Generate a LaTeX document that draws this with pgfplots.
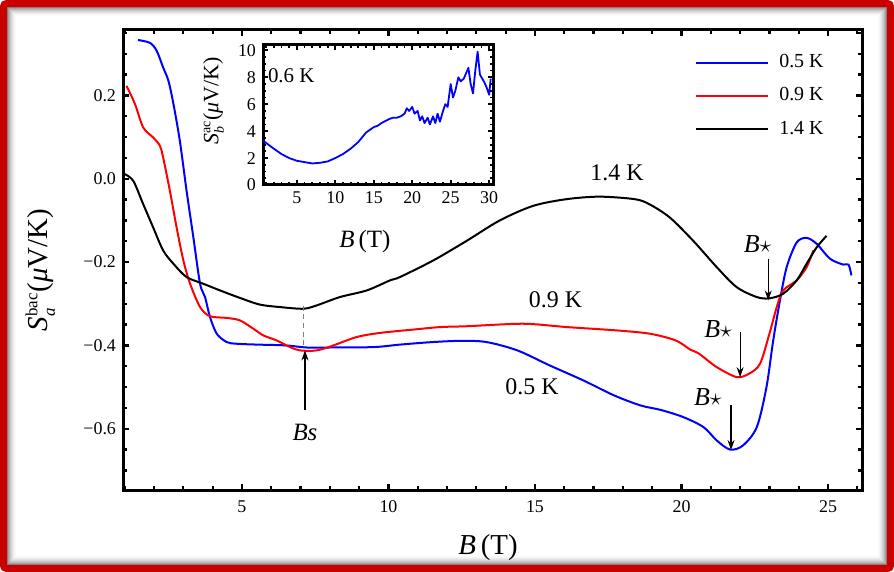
\documentclass[border=0pt]{standalone}
\usepackage{fontspec}
\setmainfont{Liberation Serif}
\usepackage{pgfplots}
\pgfplotsset{compat=1.18}
\usetikzlibrary{arrows.meta}
\definecolor{frred}{RGB}{200,0,0}
\newcommand{\tf}{\fontsize{9}{10}\selectfont}
\begin{document}
\begin{tikzpicture}
\pgfplotsset{
  myframe/.style={
    scale only axis,
    axis line style={line width=1.5bp},
    tick align=inside,
    xtick pos=both, ytick pos=both,
    major tick length=3bp, minor tick length=1.8bp,
    every tick/.style={black, line width=1.1bp},
    tick label style={font=\tf},
    /pgf/number format/assume math mode=true,
  }
}
% bounding box & frame
\path[use as bounding box] (-61.5bp,-41bp) rectangle (385.5bp,245bp);
\foreach \i in {0,...,9}{
  \pgfmathsetmacro{\op}{0.45*(1-\i/10)^2}
  \draw[black, opacity=\op, line width=0.55bp]
    ({-61.5bp+3.8bp+0.5bp*\i},{-41bp+3.8bp+0.5bp*\i}) rectangle ({385.5bp-3.8bp-0.5bp*\i},{245bp-3.8bp-0.5bp*\i});
}
\draw[frred, line width=3.6bp, rounded corners=1.5bp] (-59.7bp,-39.2bp) rectangle (383.7bp,243.2bp);

\begin{axis}[myframe, at={(0,0)}, anchor=south west, width=369.5bp, height=230bp,
  xmin=0.94, xmax=26.16, ymin=-0.747, ymax=0.357,
  xtick={5,10,15,20,25}, minor xtick={1,2,...,26},
  ytick={-0.6,-0.4,-0.2,0,0.2}, yticklabels={−0.6,−0.4,−0.2,0.0,0.2},
  minor ytick={-0.7,-0.65,-0.55,-0.5,-0.45,-0.35,-0.3,-0.25,-0.15,-0.1,-0.05,0.05,0.1,0.15,0.25,0.3,0.35},
  xticklabel style={yshift=-2bp},
  xlabel={\textit{B}\,(T)},
  xlabel style={font=\fontsize{14.5}{16}\selectfont, at={(axis description cs:0.494,-0.126)}, anchor=center},
  ylabel={\textit{S}$^{\mbox{\fontsize{8.5}{9}\selectfont bac}}_{\mbox{\fontsize{8.5}{9}\selectfont\itshape a}}$(\textit{μ}V/K)},
  ylabel style={font=\fontsize{14.5}{16}\selectfont, at={(axis description cs:-0.112,0.478)}, anchor=center},
  legend style={at={(0.962,0.965)}, anchor=north east, draw=none, fill=none,
    font=\fontsize{10}{11}\selectfont, row sep=4.5bp, legend cell align=left,
    /tikz/every odd column/.append style={column sep=3bp}},
  legend image code/.code={\draw[#1] (0bp,0bp) -- (36bp,0bp);},
]
\addplot[blue, line width=1bp, smooth, tension=0.5] coordinates {
(1.45,0.333)(1.86,0.326)(2.09,0.307)(2.31,0.267)(2.49,0.235)(2.66,0.18)(2.88,0.091)(3.11,-0.029)(3.34,-0.14)(3.57,-0.252)(3.74,-0.284)(3.91,-0.332)(4.14,-0.372)(4.48,-0.392)(4.82,-0.396)(5.5,-0.398)(6.5,-0.400)(7.2,-0.405)(8,-0.405)(9.5,-0.404)(10.4,-0.398)(11.5,-0.392)(12.5,-0.389)(13.35,-0.392)(14.4,-0.412)(15.5,-0.448)(16.65,-0.484)(17.7,-0.52)(18.6,-0.544)(19.3,-0.555)(20.06,-0.572)(20.75,-0.596)(21.2,-0.628)(21.66,-0.65)(22.1,-0.64)(22.57,-0.596)(22.9,-0.5)(23.13,-0.388)(23.36,-0.292)(23.59,-0.212)(23.93,-0.153)(24.27,-0.142)(24.61,-0.156)(25.07,-0.192)(25.52,-0.206)(25.7,-0.206)(25.8,-0.232)
};
\addlegendentry{0.5 K}
\addplot[red, line width=1bp, smooth, tension=0.5] coordinates {
(1.06,0.223)(1.35,0.179)(1.63,0.123)(1.97,0.099)(2.2,0.079)(2.31,0.051)(2.54,-0.029)(2.77,-0.117)(3.0,-0.196)(3.23,-0.252)(3.57,-0.308)(3.91,-0.33)(4.48,-0.334)(4.93,-0.34)(5.39,-0.36)(5.73,-0.376)(6.18,-0.388)(6.64,-0.404)(6.98,-0.412)(7.55,-0.412)(8.12,-0.4)(8.91,-0.38)(9.71,-0.37)(10.85,-0.362)(11.76,-0.356)(12.67,-0.354)(14.6,-0.348)(16.08,-0.356)(17.79,-0.364)(18.93,-0.372)(19.8,-0.388)(20.3,-0.41)(20.6,-0.42)(21.2,-0.452)(21.88,-0.476)(22.3,-0.468)(22.68,-0.444)(23.0,-0.372)(23.25,-0.308)(23.47,-0.268)(23.93,-0.244)(24.27,-0.212)(24.5,-0.172)
};
\addlegendentry{0.9 K}
\addplot[black, line width=1bp, smooth, tension=0.5] coordinates {
(1.0,0.011)(1.29,-0.005)(1.63,-0.061)(1.97,-0.117)(2.31,-0.172)(2.66,-0.204)(3.11,-0.236)(3.68,-0.252)(4.25,-0.268)(4.93,-0.286)(5.61,-0.302)(6.3,-0.308)(7.09,-0.312)(7.55,-0.304)(8.34,-0.284)(9.26,-0.268)(10.05,-0.244)(10.39,-0.236)(11.53,-0.196)(12.67,-0.149)(13.8,-0.1)(14.94,-0.065)(16.08,-0.049)(17.2,-0.043)(18.4,-0.049)(18.9,-0.061)(19.6,-0.093)(20.4,-0.149)(21.2,-0.212)(21.88,-0.26)(22.57,-0.284)(23.0,-0.287)(23.47,-0.276)(23.93,-0.244)(24.27,-0.204)(24.61,-0.165)(24.95,-0.137)
};
\addlegendentry{1.4 K}
% annotations
\node[font=\fontsize{12}{13}\selectfont] at (axis cs:17.8,0.014) {1.4 K};
\node[font=\fontsize{12}{13}\selectfont] at (axis cs:15.7,-0.29) {0.9 K};
\node[font=\fontsize{12}{13}\selectfont] at (axis cs:14.9,-0.50) {0.5 K};
\node[font=\fontsize{13}{14}\selectfont] at (axis cs:22.6,-0.156) {\textit{B}$\star$};
\node[font=\fontsize{13}{14}\selectfont] at (axis cs:21.25,-0.36) {\textit{B}$\star$};
\node[font=\fontsize{13}{14}\selectfont] at (axis cs:20.9,-0.525) {\textit{B}$\star$};
\draw[-{Stealth[length=5bp,width=3.5bp]}, line width=0.6bp] (axis cs:22.96,-0.192) -- (axis cs:22.96,-0.292);
\draw[-{Stealth[length=5bp,width=3.5bp]}, line width=0.6bp] (axis cs:22.0,-0.368) -- (axis cs:22.0,-0.476);
\draw[-{Stealth[length=5bp,width=3.5bp]}, line width=0.6bp] (axis cs:21.69,-0.544) -- (axis cs:21.69,-0.651);
\draw[gray, dash pattern=on 2.5bp off 1.8bp, line width=0.6bp] (axis cs:7.1,-0.305) -- (axis cs:7.1,-0.40);
\draw[-{Stealth[length=5bp,width=3.5bp]}, line width=0.6bp] (axis cs:7.15,-0.556) -- (axis cs:7.15,-0.412);
\node[font=\fontsize{12.5}{14}\selectfont] at (axis cs:7.15,-0.61) {\textit{Bs}};
\end{axis}

\begin{axis}[myframe, at={(70bp,152.5bp)}, anchor=south west, width=115bp, height=70bp,
  axis background/.style={fill=white},
  xmin=0.6, xmax=30.5, ymin=0, ymax=10.4,
  xtick={5,10,15,20,25,30}, minor xtick={1,2,...,30},
  ytick={0,2,4,6,8,10}, minor ytick={0.5,1,...,10},
  major tick length=2.5bp, minor tick length=1.4bp,
  every tick/.style={black, line width=0.9bp},
  xlabel={\textit{B}\,(T)},
  xlabel style={font=\fontsize{12.5}{14}\selectfont, at={(axis description cs:0.443,-0.407)}, anchor=center},
  ylabel={\textit{S}$^{\mbox{\fontsize{7}{8}\selectfont ac}}_{\mbox{\fontsize{7}{8}\selectfont\itshape b}}$(\textit{μ}V/K)},
  ylabel style={font=\fontsize{11}{12}\selectfont, at={(axis description cs:-0.215,0.6)}, anchor=center},
]
\addplot[blue, line width=0.9bp, line join=round] coordinates {
(0.6,3.3)(2,2.7)(3,2.3)(4,2.0)(5,1.8)(6,1.7)(7,1.6)(8,1.65)(9,1.75)(10,2.0)(11,2.3)(12,2.7)(13,3.2)(14,3.9)(15,4.3)(15.5,4.4)(16,4.6)(17,4.9)(17.5,5.0)(18,5.0)(18.5,5.1)(19,5.3)(19.3,5.7)(19.6,5.5)(20,5.8)(20.3,5.3)(20.7,5.5)(21,4.8)(21.3,5.1)(21.6,4.6)(22,5.0)(22.3,4.5)(22.7,5.1)(23,4.6)(23.3,5.3)(23.6,4.7)(24,5.5)(24.3,6.0)(24.6,5.8)(25,7.5)(25.3,6.5)(25.6,7.0)(26,8.0)(26.3,7.7)(26.7,7.9)(27,8.3)(27.3,8.7)(27.6,7.5)(27.9,6.8)(28.2,8.5)(28.5,9.9)(28.8,8.2)(29.1,7.9)(29.4,7.6)(29.7,7.2)(30,6.7)(30.2,7.9)
};
\node[anchor=west, font=\fontsize{10.5}{12}\selectfont, inner sep=0pt] at (axis cs:1.2,8.1) {0.6 K};
\end{axis}
\end{tikzpicture}
\end{document}
